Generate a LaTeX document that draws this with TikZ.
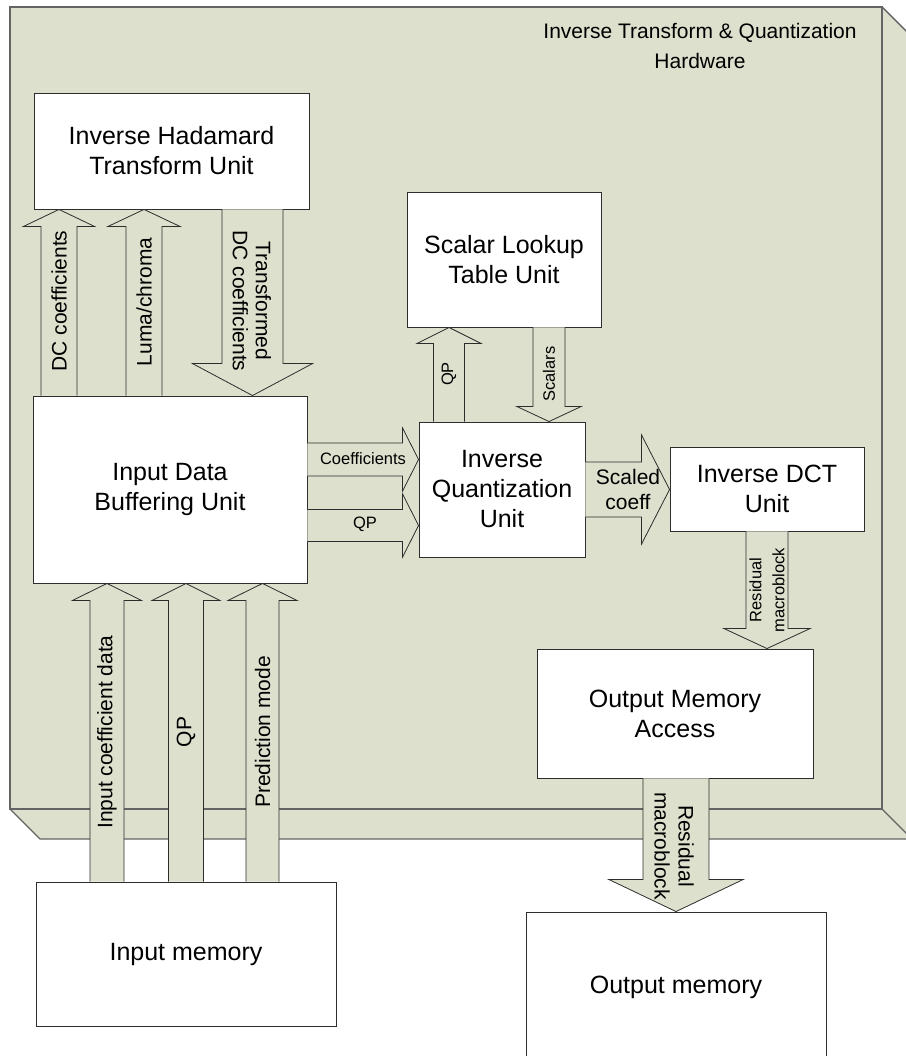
\documentclass[tikz,border=0pt]{standalone}
\usepackage{fontspec}
\setmainfont{Liberation Sans}
\usetikzlibrary{calc}
\definecolor{panel}{RGB}{220,224,204}
\definecolor{edgegray}{RGB}{100,100,100}
\definecolor{linegray}{RGB}{45,45,45}
% block arrow: from, to, half shaft width, half head width, head length
\newcommand{\blockarr}[5]{%
  \coordinate (ba) at (#1);
  \coordinate (bb) at (#2);
  \coordinate (hb) at ($(bb)!#5!(ba)$);
  \draw[arrowline] ($(ba)!#3!90:(bb)$) -- ($(hb)!#3!90:(bb)$) -- ($(hb)!#4!90:(bb)$) -- (bb)
    -- ($(hb)!#4!-90:(bb)$) -- ($(hb)!#3!-90:(bb)$) -- ($(ba)!#3!-90:(bb)$);
}
\begin{document}
\begin{tikzpicture}[x=1pt,y=-1pt,
  box/.style={draw=linegray, line width=0.9pt, fill=white, align=center, inner sep=0pt,
    font=\fontsize{25}{30}\selectfont},
  biglbl/.style={font=\fontsize{21}{24}\selectfont, align=center, inner sep=0pt},
  smalllbl/.style={font=\fontsize{16.5}{23}\selectfont, align=center, inner sep=0pt},
  arrowline/.style={draw=linegray, line width=0.8pt, fill=panel, line join=miter},
  frameline/.style={draw=edgegray, line width=1.4pt}]
\useasboundingbox (0,0) rectangle (905,1056);
% 3D panel
\fill[panel] (10,7) -- (882,7) -- (912,37) -- (912,839) -- (40,839) -- (10,809) -- cycle;
\draw[frameline] (10,7) rectangle (882,809);
\draw[frameline] (882,7) -- (912,37);
\draw[frameline] (882,809) -- (912,839);
\draw[frameline] (10,809) -- (40,839) -- (912,839);
\node[font=\fontsize{21}{30}\selectfont, align=center, inner sep=0pt] (title) at (700,46)
  {Inverse Transform \& Quantization\\Hardware};
% units
\node[box, minimum width=275pt, minimum height=116pt] (had) at (171.5,151) {Inverse Hadamard\\Transform Unit};
\node[box, minimum width=274pt, minimum height=187pt] (ibuf) at (170,489.5) {Input Data\\Buffering Unit};
\node[box, minimum width=194pt, minimum height=135pt] (sclt) at (504,259.5) {Scalar Lookup\\Table Unit};
\node[box, minimum width=166pt, minimum height=135pt] (iq) at (502,489.5) {Inverse\\Quantization\\Unit};
\node[box, minimum width=194pt, minimum height=84pt] (idct) at (767,489) {Inverse DCT\\Unit};
\node[box, minimum width=276pt, minimum height=129pt] (oma) at (675,713.5) {Output Memory\\Access};
\node[box, minimum width=300pt, minimum height=144pt] (imem) at (186,954) {Input memory};
\node[box, minimum width=300pt, minimum height=150pt] (omem) at (676,987) {Output memory};
% x / y positions of arrows
\coordinate (xdc) at (59,0);
\coordinate (xluma) at (144,0);
\coordinate (xtdc) at (252.5,0);
\coordinate (xin) at (107,0);
\coordinate (xqp) at (186,0);
\coordinate (xpm) at (262.5,0);
\coordinate (xqpu) at (449,0);
\coordinate (xsc) at (549,0);
\coordinate (xres) at (767,0);
\coordinate (xres2) at (676,0);
\coordinate (ycoef) at (0,459.5);
\coordinate (yqp) at (0,525.5);
\coordinate (yscl) at (0,489.5);
% arrows
\blockarr{xdc |- ibuf.north}{xdc |- had.south}{18pt}{35.5pt}{17pt}
\blockarr{xluma |- ibuf.north}{xluma |- had.south}{18pt}{36pt}{17pt}
\blockarr{xtdc |- had.south}{xtdc |- ibuf.north}{30.5pt}{60pt}{32pt}
\blockarr{ibuf.east |- ycoef}{iq.west |- ycoef}{16.5pt}{31.5pt}{16pt}
\blockarr{ibuf.east |- yqp}{iq.west |- yqp}{16pt}{31.5pt}{16pt}
\blockarr{xqpu |- iq.north}{xqpu |- sclt.south}{15.5pt}{32pt}{16pt}
\blockarr{xsc |- sclt.south}{xsc |- iq.north}{16pt}{32pt}{15pt}
\blockarr{iq.east |- yscl}{idct.west |- yscl}{27.5pt}{54.5pt}{28pt}
\blockarr{xres |- idct.south}{xres |- oma.north}{21pt}{43pt}{20pt}
\blockarr{xin |- imem.north}{xin |- ibuf.south}{17pt}{34.5pt}{17pt}
\blockarr{xqp |- imem.north}{xqp |- ibuf.south}{17.5pt}{34pt}{17pt}
\blockarr{xpm |- imem.north}{xpm |- ibuf.south}{16.5pt}{34.5pt}{17pt}
\blockarr{xres2 |- oma.south}{xres2 |- omem.north}{33pt}{67pt}{32pt}
% labels
\node[biglbl, rotate=90] (ldc) at (59,301) {DC coefficients};
\node[biglbl, rotate=90] (lluma) at (144,302) {Luma/chroma};
\node[biglbl, rotate=-90, font=\fontsize{21}{23}\selectfont] (ltdc) at (252,301) {Transformed\\DC coefficients};
\node[smalllbl] (lcoef) at (363,459) {Coefficients};
\node[smalllbl] (lqp) at (365,524) {QP};
\node[smalllbl, rotate=90] (lqpu) at (449,374) {QP};
\node[smalllbl, rotate=90] (lsc) at (549,374) {Scalars};
\node[biglbl, font=\fontsize{21}{25}\selectfont] (lscl) at (628,489.5) {Scaled\\coeff};
\node[smalllbl, rotate=90] (lres) at (767,590) {Residual\\macroblock};
\node[biglbl, rotate=90] (lin) at (107,732) {Input coefficient data};
\node[biglbl, rotate=90] (lqp2) at (186,732) {QP};
\node[biglbl, rotate=90] (lpm) at (262.5,732) {Prediction mode};
\node[biglbl, rotate=-90] (lres2) at (674,846) {Residual\\macroblock};
\end{tikzpicture}
\end{document}
